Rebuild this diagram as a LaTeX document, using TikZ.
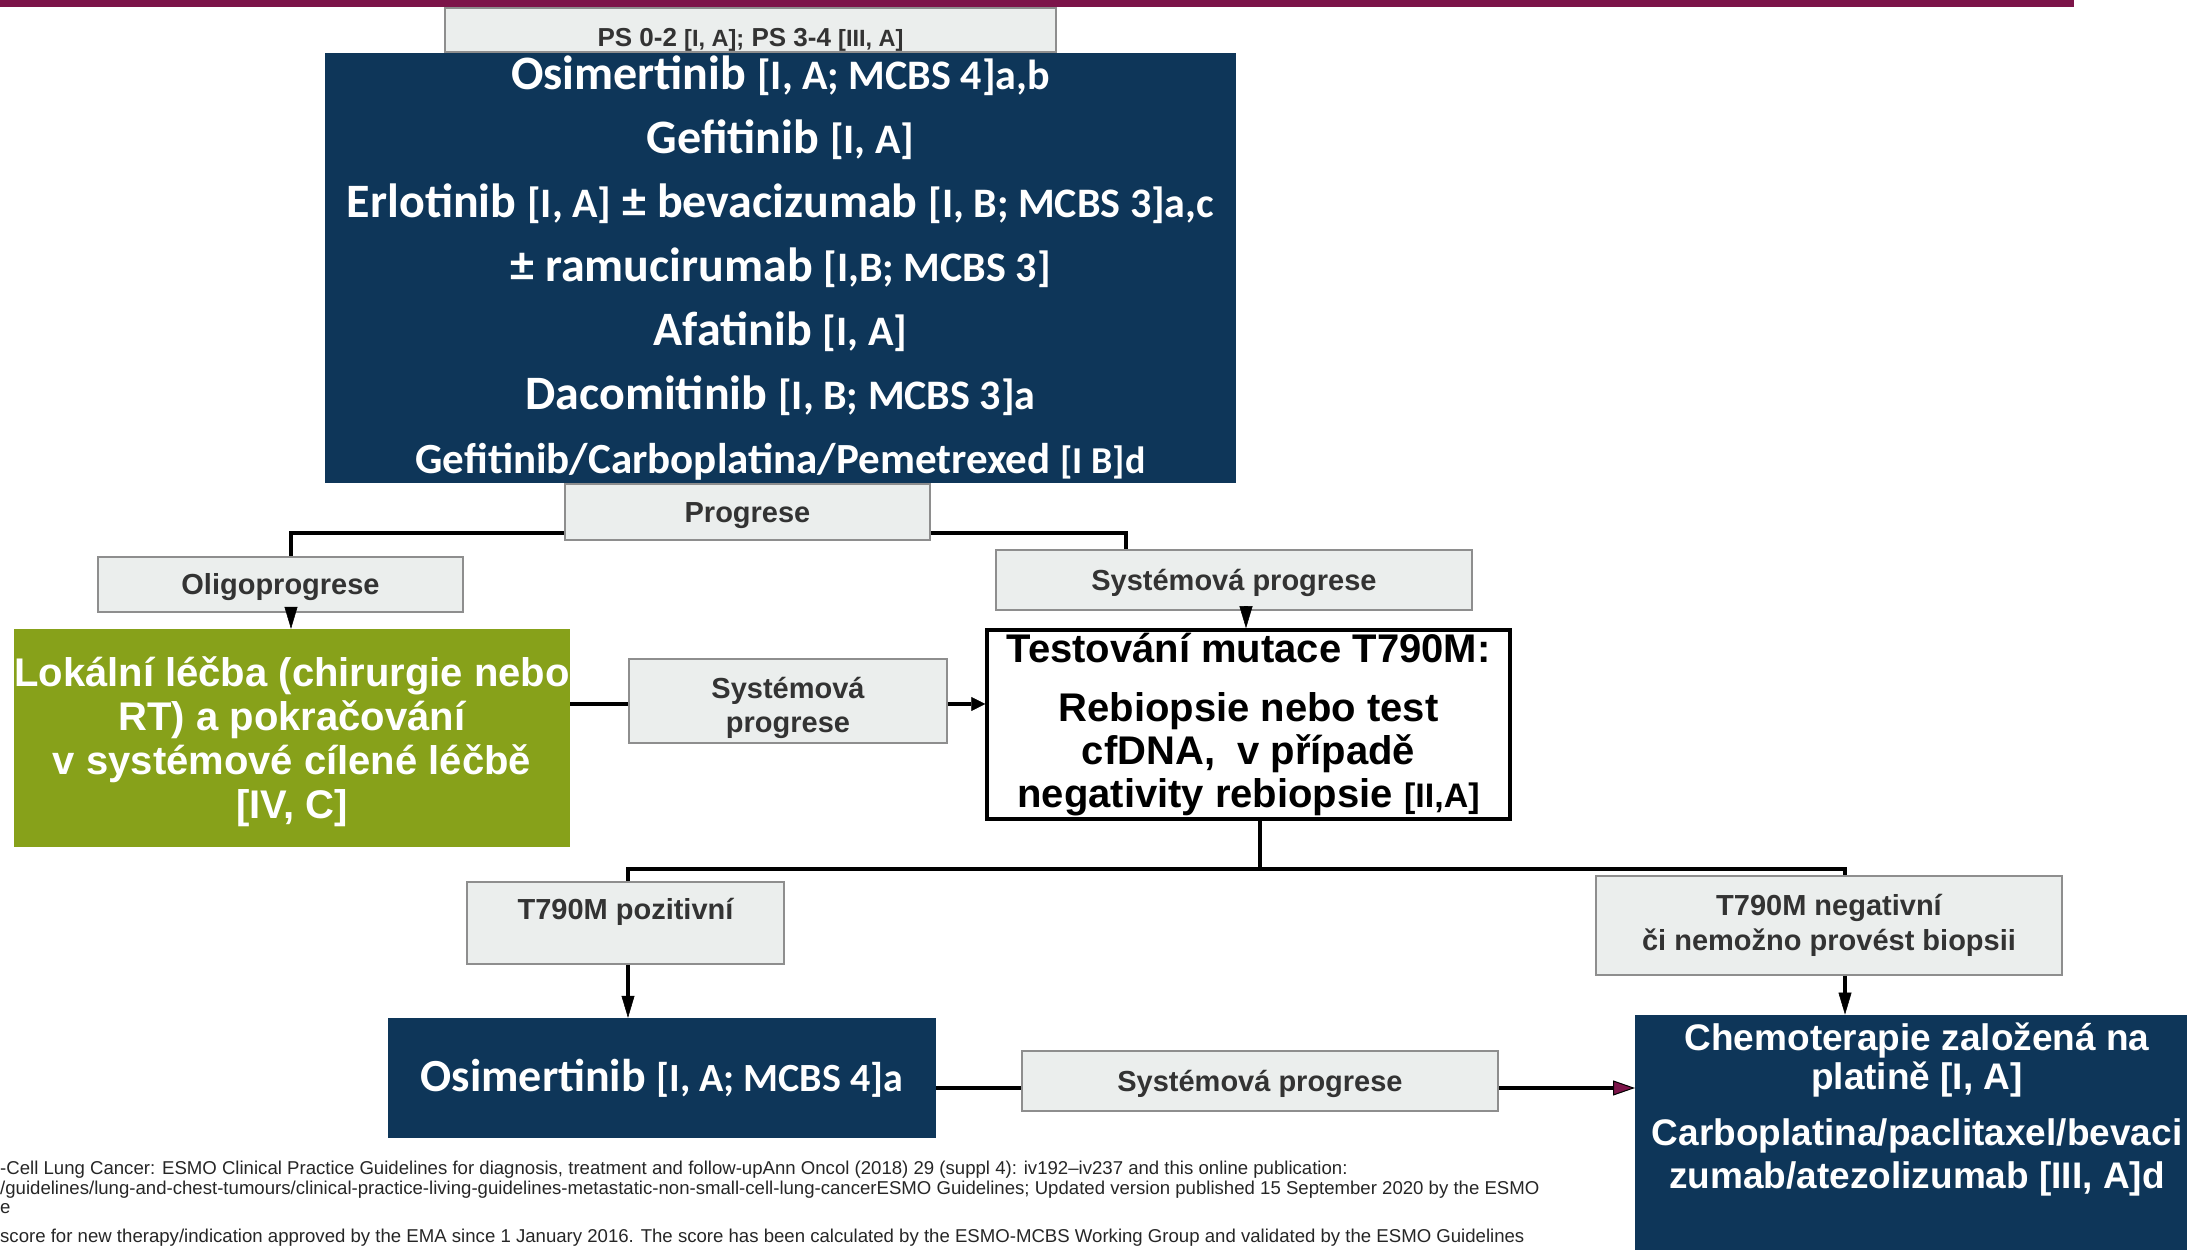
\documentclass[tikz,border=0pt]{standalone}
\usepackage{fontspec}
\setmainfont{Liberation Sans}
\newfontfamily\carl{Carlito}
\usetikzlibrary{arrows.meta,calc}
\definecolor{navy}{HTML}{0E3659}
\definecolor{olive}{HTML}{87A11A}
\definecolor{grayfill}{HTML}{EBEEED}
\definecolor{grayline}{HTML}{8E8E8E}
\definecolor{graytext}{HTML}{333333}
\definecolor{maroonc}{HTML}{7C1449}
\newcommand{\fs}[2]{\fontsize{#1}{#2}\selectfont}
\newcommand{\bk}[1]{{\fs{42}{64}#1}}
\begin{document}
\begin{tikzpicture}[x=1pt,y=1pt,
  graybox/.style={draw=grayline, line width=2pt, fill=grayfill, text=graytext,
    font=\bfseries\fs{29}{34}, align=center, inner sep=0pt},
  grayone/.style={graybox, text height=24pt, text depth=3pt},
  graytxt/.style={text=graytext, font=\bfseries\fs{29}{34}, align=center, inner sep=0pt},
  bluebox/.style={fill=navy, text=white, align=center, inner sep=0pt},
  whitetxt/.style={text=white, font=\bfseries\fs{37}{39}, align=center, inner sep=0pt},
  conn/.style={line width=3.5pt, draw=black, line join=miter},
  tip/.style={-{Triangle[length=22pt,width=13pt,line width=0.5pt]}},
  tipshort/.style={-{Triangle[length=14pt,width=14pt,line width=0.5pt]}},
  maroontip/.style={-{Triangle[length=22pt,width=15pt,line width=1pt,fill=maroonc]}},
  foot/.style={anchor=west, inner sep=0pt, font=\fs{18.6}{21}, text=black!85}
]
\useasboundingbox (0,0) rectangle (2187,1250);
\clip (0,0) rectangle (2187,1250);
\fill[maroonc] (0,1242.5) rectangle (2074,1250);

% nodes
\node[graybox, text height=36pt, text depth=2pt, minimum width=611pt, minimum height=44pt] (ps) at (750.5,1220)
  {\fs{26}{30}PS 0-2 {\fs{23.5}{30}[I, A];} PS 3-4 {\fs{23.5}{30}[III, A]}};

\node[bluebox, font=\carl\bfseries\fs{48}{64}, minimum width=911pt, minimum height=430pt] (blue1) at (780.5,982)
  {Osimertinib \bk{[I, A; MCBS 4]a,b}\\
   Gefitinib \bk{[I, A]}\\
   Erlotinib \bk{[I, A]} ± bevacizumab \bk{[I, B; MCBS 3]a,c}\\
   ± ramucirumab \bk{[I,B; MCBS 3]}\\
   Afatinib \bk{[I, A]}\\
   Dacomitinib \bk{[I, B; MCBS 3]a}\\
   {\fs{43}{64}Gefitinib/Carboplatina/Pemetrexed {\fs{38}{64}[I B]d}}};

\node[grayone, minimum width=365pt, minimum height=56pt] (prog) at (747.5,738) {Progrese};
\node[grayone, minimum width=365pt, minimum height=55pt] (oligo) at (280.5,665.5) {Oligoprogrese};
\node[grayone, minimum width=476pt, minimum height=60pt] (sysu) at (1234,670) {Systémová progrese};

\node[fill=olive, text=white, font=\bfseries\fs{40}{44}, align=center, inner sep=0pt,
  minimum width=556pt, minimum height=218pt] (green) at (292,512)
  {\rule{0pt}{36.5pt}Lokální léčba (chirurgie nebo\\RT) a pokračování\\v systémové cílené léčbě\\{}[IV, C]};

\node[graybox, minimum width=318pt, minimum height=84pt] (sysm) at (788,549) {\rule{0pt}{35pt}Systémová\\progrese};

\node[draw=black, line width=3.5pt, fill=white, font=\bfseries\fs{40}{43}, align=center,
  inner sep=0pt, minimum width=523pt, minimum height=189pt] (test) at (1248.5,525.5)
  {Testování mutace T790M:\\[16pt]Rebiopsie nebo test\\cfDNA,\ \ v případě\\negativity rebiopsie {\fs{34}{43}[II,A]}};

\node[graybox, minimum width=317pt, minimum height=82pt] (pos) at (625.5,327) {};
\node[graytxt] (post) at (625.5,338) {T790M pozitivní};

\node[graybox, font=\bfseries\fs{29}{35}, minimum width=466pt, minimum height=99pt] (neg) at (1829,324.5)
  {T790M negativní\\či nemožno provést biopsii};

\node[bluebox, font=\carl\bfseries\fs{46}{54}, minimum width=548pt, minimum height=120pt] (osi2) at (662,172)
  {Osimertinib {\fs{40}{54}[I, A; MCBS 4]a}};

\node[grayone, minimum width=476pt, minimum height=60pt] (sysb) at (1260,169) {Systémová progrese};

\node[fill=navy, inner sep=0pt, minimum width=560pt, minimum height=240pt, anchor=south west] (chemo) at (1635,-5) {};
\node[whitetxt] (chemot1) at (1917,189.5) {Chemoterapie založená na\\platině [I, A]};
\node[whitetxt, font=\bfseries\fs{37}{43}] (chemot2) at (1917,92.5) {Carboplatina/paclitaxel/bevaci\\zumab/atezolizumab [III, A]d};

% footnotes
\node[foot] (fn1) at (0,80) {-Cell Lung Cancer: ESMO Clinical Practice Guidelines for diagnosis, treatment and follow-upAnn Oncol (2018) 29 (suppl 4): iv192–iv237 and this online publication:};
\node[foot] (fn2) at (0,60) {/guidelines/lung-and-chest-tumours/clinical-practice-living-guidelines-metastatic-non-small-cell-lung-cancerESMO Guidelines; Updated version published 15 September 2020 by the ESMO};
\node[foot] (fn3) at (0,41) {e};
\node[foot] (fn4) at (0,12) {score for new therapy/indication approved by the EMA since 1 January 2016. The score has been calculated by the ESMO-MCBS Working Group and validated by the ESMO Guidelines};

% helper coordinates
\coordinate (cpl) at (291,717);
\coordinate (cpr) at (1126,717);
\coordinate (cgs) at (0,546);
\coordinate (cst) at (1246,0);
\coordinate (cts) at (1260,381);
\coordinate (cL) at (628,381);
\coordinate (cR) at (1845,381);
\coordinate (cob) at (0,162);

% connectors
\draw[conn] (prog.west |- cpl) -| (oligo.north -| cpl);
\draw[conn] (prog.east |- cpr) -| (sysu.north -| cpr);
\draw[conn,tip] (oligo.south -| cpl) -- (green.north -| cpl);
\draw[conn] (green.east |- cgs) -- (sysm.west |- cgs);
\draw[conn,tipshort] (sysm.east |- cgs) -- (test.west |- cgs);
\draw[conn,tip] (sysu.south -| cst) -- (test.north -| cst);
\draw[conn] (test.south -| cts) -- (cts);
\draw[conn] (pos.north -| cL) -- (cL) -- (cR) -- (neg.north -| cR);
\draw[conn,tip] (pos.south -| cL) -- (osi2.north -| cL);
\draw[conn] (osi2.east |- cob) -- (sysb.west |- cob);
\draw[conn,maroontip] (sysb.east |- cob) -- (chemo.west |- cob);
\draw[conn,tip] (neg.south -| cR) -- (chemo.north -| cR);
\end{tikzpicture}
\end{document}
